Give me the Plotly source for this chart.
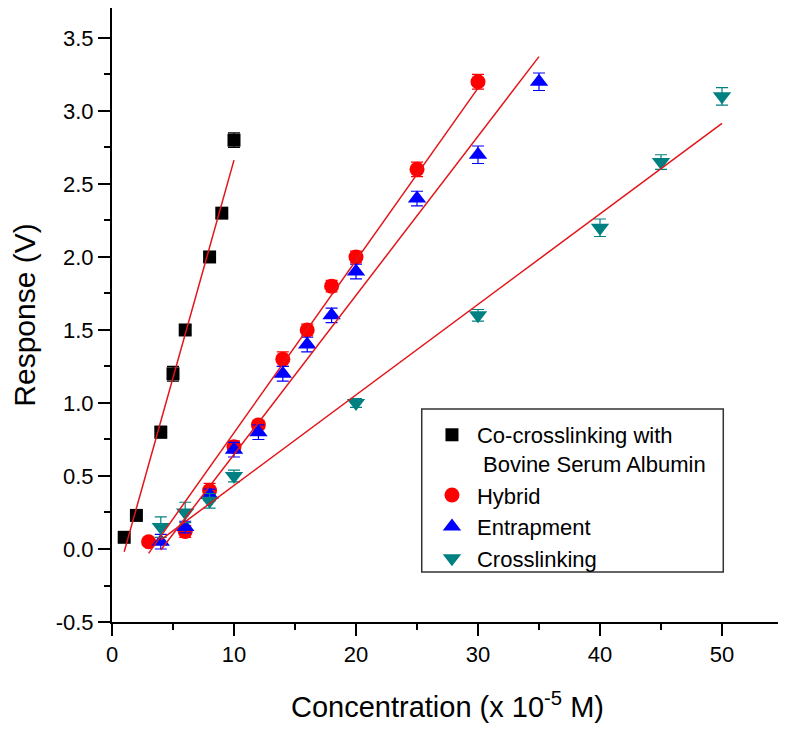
import plotly.graph_objects as go

# ---- data ----
bsa_x = [1, 2, 4, 5, 6, 8, 9, 10]
bsa_y = [0.08, 0.23, 0.80, 1.20, 1.50, 2.00, 2.30, 2.80]
bsa_err = [0.02, 0.02, 0.04, 0.05, 0.03, 0.03, 0.03, 0.05]

hyb_x = [3, 6, 8, 10, 12, 14, 16, 18, 20, 25, 30]
hyb_y = [0.05, 0.12, 0.40, 0.70, 0.85, 1.30, 1.50, 1.80, 2.00, 2.60, 3.20]
hyb_err = [0.02, 0.04, 0.05, 0.04, 0.03, 0.05, 0.04, 0.04, 0.04, 0.05, 0.05]

ent_x = [4, 6, 8, 10, 12, 14, 16, 18, 20, 25, 30, 35]
ent_y = [0.05, 0.15, 0.37, 0.68, 0.80, 1.20, 1.40, 1.60, 1.90, 2.40, 2.70, 3.20]
ent_err = [0.05, 0.04, 0.04, 0.05, 0.05, 0.05, 0.05, 0.05, 0.05, 0.05, 0.06, 0.06]

crs_x = [4, 6, 8, 10, 20, 30, 40, 45, 50]
crs_y = [0.15, 0.25, 0.33, 0.50, 1.00, 1.60, 2.20, 2.65, 3.10]
crs_err = [0.07, 0.07, 0.05, 0.04, 0.03, 0.04, 0.06, 0.05, 0.06]

# linear-fit parameters (slope, intercept)
fit_slope = [0.298, 0.118, 0.109, 0.062]
fit_intercept = [-0.317, -0.384, -0.443, -0.185]

y_tick_vals = [-0.5, 0.0, 0.5, 1.0, 1.5, 2.0, 2.5, 3.0, 3.5]
y_tick_text = ["-0.5", "0.0", "0.5", "1.0", "1.5", "2.0", "2.5", "3.0", "3.5"]
x_tick_vals = [0, 10, 20, 30, 40, 50]
x_tick_text = ["0", "10", "20", "30", "40", "50"]

names = ["Co-crosslinking with<br>\u00a0Bovine Serum Albumin", "Hybrid", "Entrapment", "Crosslinking"]
colors = ["#000000", "#FF0000", "#0000FF", "#008080"]
symbols = ["square", "circle", "triangle-up", "triangle-down"]
sizes = [13, 15, 16, 16]

series = [(bsa_x, bsa_y, bsa_err), (hyb_x, hyb_y, hyb_err),
          (ent_x, ent_y, ent_err), (crs_x, crs_y, crs_err)]

FONT = "Liberation Sans, Arial, sans-serif"

fig = go.Figure()
for (xs, ys, es), nm, c, s, sz in zip(series, names, colors, symbols, sizes):
    fig.add_trace(go.Scatter(
        x=xs, y=ys, mode="markers", name=nm,
        marker=dict(symbol=s, color=c, size=sz, line=dict(width=0)),
        error_y=dict(type="data", array=es, visible=True, color=c, thickness=1.2, width=6),
    ))

# fitted lines over each series' x range (drawn on top of the markers)
for (xs, ys, es), k, b in zip(series, fit_slope, fit_intercept):
    xf = [min(xs), max(xs)]
    fig.add_trace(go.Scatter(
        x=xf, y=[k * v + b for v in xf], mode="lines", showlegend=False,
        line=dict(color="#E3151A", width=1.5), hoverinfo="skip",
    ))

fig.update_layout(
    width=778, height=721,
    margin=dict(l=104, r=3, t=0, b=107),
    paper_bgcolor="white", plot_bgcolor="white",
    font=dict(family=FONT, color="black", size=22),
    showlegend=True,
    legend=dict(
        x=0.4694, y=0.3388, xanchor="left", yanchor="top",
        bgcolor="rgba(0,0,0,0)", borderwidth=0,
        font=dict(size=22, family=FONT), valign="top",
        itemwidth=40,
    ),
    shapes=[dict(type="rect", xref="paper", yref="paper",
                 x0=0.4616, x1=0.911, y0=0.0814, y1=0.3469,
                 line=dict(color="#333333", width=1.5), fillcolor="rgba(0,0,0,0)")],
)

fig.update_xaxes(
    range=[0, 55], tickvals=x_tick_vals, ticktext=x_tick_text, automargin=False,
    showline=True, linecolor="black", linewidth=2,
    ticks="outside", ticklen=12, tickwidth=2, tickcolor="black",
    minor=dict(dtick=5, tick0=0, ticks="outside", ticklen=6, tickwidth=2, tickcolor="black"),
    showgrid=False, zeroline=False,
    tickfont=dict(size=22, family=FONT),
    title=dict(text="Concentration (x 10<sup>-5</sup> M)", font=dict(size=29, family=FONT), standoff=30),
)
fig.update_yaxes(
    range=[-0.5, 3.705], tickvals=y_tick_vals, ticktext=y_tick_text, automargin=False,
    showline=True, linecolor="black", linewidth=2,
    ticks="outside", ticklen=12, tickwidth=2, tickcolor="black",
    minor=dict(dtick=0.25, tick0=0, ticks="outside", ticklen=6, tickwidth=2, tickcolor="black"),
    showgrid=False, zeroline=False,
    tickfont=dict(size=22, family=FONT),
    title=dict(text="Response (V)", font=dict(size=30, family=FONT), standoff=15),
)

fig.write_html("out.html")
